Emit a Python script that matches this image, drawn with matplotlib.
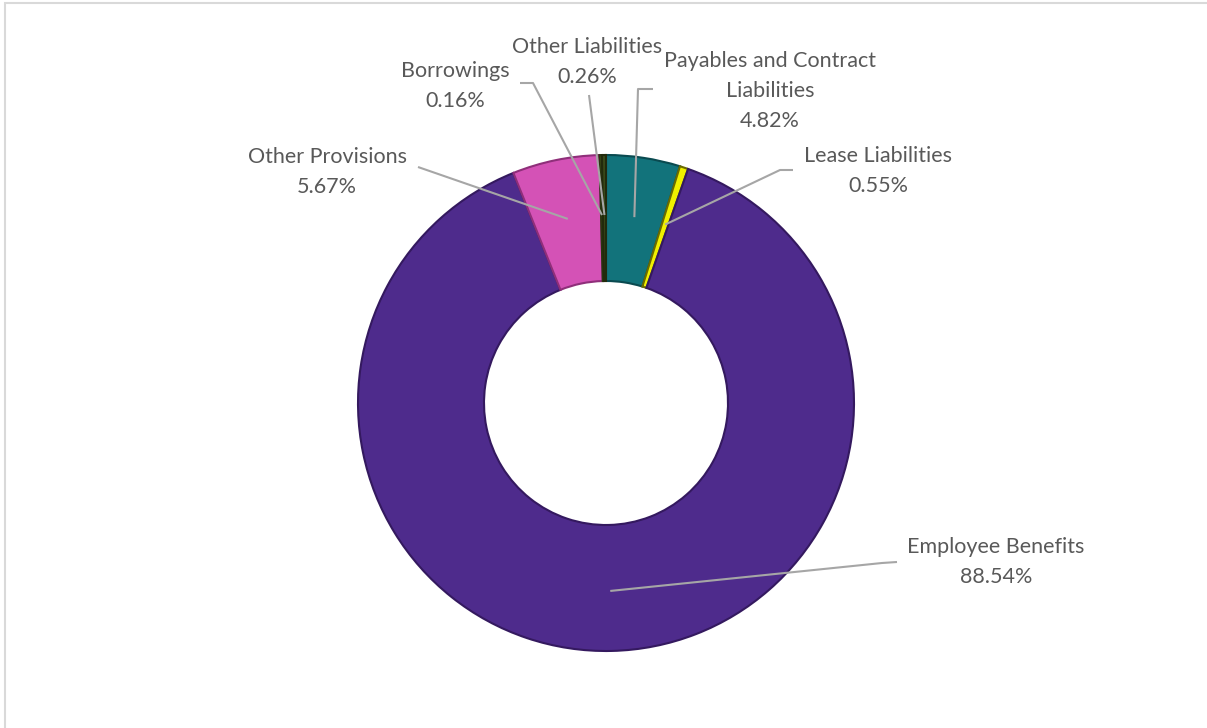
import matplotlib
matplotlib.use("Agg")
import matplotlib.pyplot as plt
from matplotlib.patches import Rectangle
import numpy as np

# data, clockwise from 12 o'clock
categorias = ["Payables and Contract\nLiabilities", "Lease Liabilities", "Employee Benefits",
              "Other Provisions", "Borrowings", "Other Liabilities"]
porcentajes = [4.82, 0.55, 88.54, 5.67, 0.16, 0.26]
colores = ["#12737b", "#f0f000", "#4e2b8c", "#d452b6", "#4b5e22", "#3a4a1a"]
bordes = ["#0a4a50", "#6b6b00", "#34195f", "#8f2f7a", "#2a3510", "#222a0c"]

# label placement in pixels (text centre, start of leader line)
pos_texto = [(770, 91), (878, 171), (996, 562), (327, 172), (455, 86), (587, 62)]
pos_linea = [[(653, 89), (638, 89)], [(793, 170), (780, 170)], [(897, 562), (882, 563)],
             [(418, 167)], [(520, 83), (533, 83)], [(589, 95)]]

W, H = 1207, 728
cx, cy = 606, H - 403
r_ext, r_int = 248, 122

fig = plt.figure(figsize=(W / 100, H / 100), dpi=100)
ax = fig.add_axes([0, 0, 1, 1])

fig.patches.append(Rectangle((5 / W, -0.01), 1.02, (H - 3) / H + 0.01, transform=fig.transFigure,
                             fill=False, edgecolor="#d9d9d9", linewidth=1.5))

wedges, _ = ax.pie(porcentajes, colors=colores, startangle=90, counterclock=False,
                   radius=r_ext, center=(cx, cy), frame=True,
                   wedgeprops=dict(width=r_ext - r_int, linewidth=1.5))
for w, b in zip(wedges, bordes):
    w.set_edgecolor(b)
ax.set_xlim(0, W)
ax.set_ylim(0, H)
ax.set_aspect("equal")
ax.axis("off")

r_mid = (r_ext + r_int) / 2 + 3
for w, nombre, pct, pt, pl in zip(wedges, categorias, porcentajes, pos_texto, pos_linea):
    ang = np.deg2rad((w.theta1 + w.theta2) / 2)
    px = cx + r_mid * np.cos(ang)
    py = cy + r_mid * np.sin(ang)
    xs = [p[0] for p in pl] + [px]
    ys = [H - p[1] for p in pl] + [py]
    ax.plot(xs, ys, color="#a6a6a6", linewidth=1.5, solid_capstyle="butt")
    ax.text(pt[0], H - pt[1], "{}\n{:.2f}%".format(nombre, pct), ha="center", va="center",
            fontsize=15.5, family="Lato", color="#595959", linespacing=1.6)

fig.savefig("out.png", dpi=100)
